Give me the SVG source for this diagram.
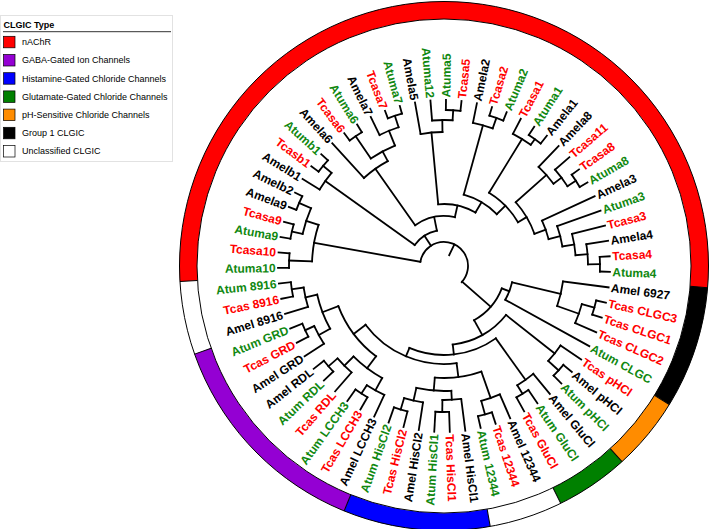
<svg xmlns="http://www.w3.org/2000/svg" width="709" height="529" viewBox="0 0 709 529">
<style>
.t line,.t circle{stroke:#000;stroke-width:1.8;fill:none;stroke-linecap:square}
.lb{font-family:"Liberation Sans",Arial,sans-serif;font-weight:bold;font-size:12px}
.r{fill:#ff0000}.g{fill:#108810}.k{fill:#000}.f{text-anchor:end}
.ring{fill:none;stroke-width:17.5}
.lg{font-family:"Liberation Sans",Arial,sans-serif;font-size:9px;fill:#000}
.sq{stroke:#000;stroke-width:0.7}
</style>
<rect width="709" height="529" fill="#fff"/>
<g id="legend">
<rect x="0.5" y="15.5" width="172" height="146" fill="#fff" stroke="#e2e2e2"/>
<text x="3.5" y="27.5" class="lg" font-weight="bold">CLGIC Type</text>
<line x1="3" y1="31.7" x2="171" y2="31.7" stroke="#333" stroke-width="1"/>
<rect class="sq" x="3.5" y="36.3" width="11.5" height="11.5" fill="#ff0000"/><text class="lg" x="22" y="45.2">nAChR</text>
<rect class="sq" x="3.5" y="54.5" width="11.5" height="11.5" fill="#9400d3"/><text class="lg" x="22" y="63.4">GABA-Gated Ion Channels</text>
<rect class="sq" x="3.5" y="72.7" width="11.5" height="11.5" fill="#0000ff"/><text class="lg" x="22" y="81.6">Histamine-Gated Chloride Channels</text>
<rect class="sq" x="3.5" y="90.9" width="11.5" height="11.5" fill="#008000"/><text class="lg" x="22" y="99.8">Glutamate-Gated Chloride Channels</text>
<rect class="sq" x="3.5" y="109.1" width="11.5" height="11.5" fill="#ff8c00"/><text class="lg" x="22" y="118">pH-Sensitive Chloride Channels</text>
<rect class="sq" x="3.5" y="127.3" width="11.5" height="11.5" fill="#000"/><text class="lg" x="22" y="136.2">Group 1 CLGIC</text>
<rect class="sq" x="3.5" y="145.5" width="11.5" height="11.5" fill="#fff"/><text class="lg" x="22" y="154.4">Unclassified CLGIC</text>
</g>
<g transform="translate(444 266)">
<g id="ring">
<circle class="ring" r="255.75" transform="rotate(176.654)" stroke="#ff0000" stroke-dasharray="839.43 3000"/>
<circle class="ring" r="255.75" transform="rotate(4.713)" stroke="#000" stroke-dasharray="119.91 3000"/>
<circle class="ring" r="255.75" transform="rotate(31.580)" stroke="#ff8c00" stroke-dasharray="71.95 3000"/>
<circle class="ring" r="255.75" transform="rotate(47.699)" stroke="#008000" stroke-dasharray="71.95 3000"/>
<circle class="ring" r="255.75" transform="rotate(79.938)" stroke="#0000ff" stroke-dasharray="143.90 3000"/>
<circle class="ring" r="255.75" transform="rotate(112.177)" stroke="#9400d3" stroke-dasharray="215.86 3000"/>
<circle r="247" fill="none" stroke="#000" stroke-width="1"/>
<circle r="264.5" fill="none" stroke="#000" stroke-width="1"/>
<g stroke="#000" stroke-width="1">
<line x1="247" x2="264.5" transform="rotate(4.713)"/><line x1="247" x2="264.5" transform="rotate(31.580)"/><line x1="247" x2="264.5" transform="rotate(47.699)"/><line x1="247" x2="264.5" transform="rotate(63.818)"/><line x1="247" x2="264.5" transform="rotate(79.938)"/><line x1="247" x2="264.5" transform="rotate(112.177)"/><line x1="247" x2="264.5" transform="rotate(160.535)"/><line x1="247" x2="264.5" transform="rotate(176.654)"/>
</g>
</g>
<g id="connectors" class="t">
<!-- G1 -->
<circle r="156" transform="rotate(12.773)" stroke-dasharray="14.63 3000"/><line transform="rotate(12.773)" x1="156" x2="166"/><line transform="rotate(18.146)" x1="156" x2="166"/>
<circle r="143" transform="rotate(15.460)" stroke-dasharray="20.11 3000"/><line transform="rotate(15.460)" x1="143" x2="156"/><line transform="rotate(23.519)" x1="143" x2="166"/>
<circle r="120" transform="rotate(7.400)" stroke-dasharray="25.32 3000"/><line transform="rotate(7.400)" x1="120" x2="166"/><line transform="rotate(19.490)" x1="120" x2="143"/>
<circle r="70" transform="rotate(13.445)" stroke-dasharray="18.87 3000"/><line transform="rotate(13.445)" x1="70" x2="120"/><line transform="rotate(28.893)" x1="70" x2="166"/>
<!-- pH -->
<circle r="155" transform="rotate(39.639)" stroke-dasharray="14.54 3000"/><line transform="rotate(39.639)" x1="155" x2="166"/><line transform="rotate(45.012)" x1="155" x2="166"/>
<circle r="141" transform="rotate(34.266)" stroke-dasharray="19.83 3000"/><line transform="rotate(34.266)" x1="141" x2="166"/><line transform="rotate(42.326)" x1="141" x2="155"/>
<!-- Glu -->
<circle r="150" transform="rotate(55.758)" stroke-dasharray="14.07 3000"/><line transform="rotate(55.758)" x1="150" x2="166"/><line transform="rotate(61.131)" x1="150" x2="166"/>
<circle r="140" transform="rotate(50.385)" stroke-dasharray="19.69 3000"/><line transform="rotate(50.385)" x1="140" x2="166"/><line transform="rotate(58.445)" x1="140" x2="150"/>
<!-- 12344 -->
<circle r="154" transform="rotate(71.878)" stroke-dasharray="14.44 3000"/><line transform="rotate(71.878)" x1="154" x2="166"/><line transform="rotate(77.251)" x1="154" x2="166"/>
<circle r="140" transform="rotate(66.504)" stroke-dasharray="19.69 3000"/><line transform="rotate(66.504)" x1="140" x2="166"/><line transform="rotate(74.565)" x1="140" x2="154"/>
<!-- HisCl -->
<circle r="146" transform="rotate(87.997)" stroke-dasharray="13.69 3000"/><line transform="rotate(87.997)" x1="146" x2="166"/><line transform="rotate(93.370)" x1="146" x2="166"/>
<circle r="134" transform="rotate(82.624)" stroke-dasharray="18.85 3000"/><line transform="rotate(82.624)" x1="134" x2="166"/><line transform="rotate(90.684)" x1="134" x2="146"/>
<circle r="150" transform="rotate(104.116)" stroke-dasharray="14.07 3000"/><line transform="rotate(104.116)" x1="150" x2="166"/><line transform="rotate(109.490)" x1="150" x2="166"/>
<circle r="138" transform="rotate(98.743)" stroke-dasharray="19.41 3000"/><line transform="rotate(98.743)" x1="138" x2="166"/><line transform="rotate(106.803)" x1="138" x2="150"/>
<circle r="125" transform="rotate(86.654)" stroke-dasharray="35.17 3000"/><line transform="rotate(86.654)" x1="125" x2="134"/><line transform="rotate(102.773)" x1="125" x2="138"/>
<circle r="112" transform="rotate(70.534)" stroke-dasharray="47.27 3000"/><line transform="rotate(70.534)" x1="112" x2="140"/><line transform="rotate(94.714)" x1="112" x2="125"/>
<!-- GABA -->
<circle r="152" transform="rotate(120.236)" stroke-dasharray="14.25 3000"/><line transform="rotate(120.236)" x1="152" x2="166"/><line transform="rotate(125.609)" x1="152" x2="166"/>
<circle r="142" transform="rotate(114.863)" stroke-dasharray="19.98 3000"/><line transform="rotate(114.863)" x1="142" x2="166"/><line transform="rotate(122.923)" x1="142" x2="152"/>
<circle r="153" transform="rotate(136.355)" stroke-dasharray="14.35 3000"/><line transform="rotate(136.355)" x1="153" x2="166"/><line transform="rotate(141.728)" x1="153" x2="166"/>
<circle r="141" transform="rotate(130.982)" stroke-dasharray="19.83 3000"/><line transform="rotate(130.982)" x1="141" x2="166"/><line transform="rotate(139.042)" x1="141" x2="153"/>
<circle r="128" transform="rotate(118.893)" stroke-dasharray="36.01 3000"/><line transform="rotate(118.893)" x1="128" x2="142"/><line transform="rotate(135.012)" x1="128" x2="141"/>
<circle r="153" transform="rotate(152.475)" stroke-dasharray="14.35 3000"/><line transform="rotate(152.475)" x1="153" x2="166"/><line transform="rotate(157.848)" x1="153" x2="166"/>
<circle r="143" transform="rotate(147.101)" stroke-dasharray="20.12 3000"/><line transform="rotate(147.101)" x1="143" x2="166"/><line transform="rotate(155.162)" x1="143" x2="153"/>
<circle r="154" transform="rotate(168.594)" stroke-dasharray="14.44 3000"/><line transform="rotate(168.594)" x1="154" x2="166"/><line transform="rotate(173.967)" x1="154" x2="166"/>
<circle r="142" transform="rotate(163.221)" stroke-dasharray="19.98 3000"/><line transform="rotate(163.221)" x1="142" x2="166"/><line transform="rotate(171.281)" x1="142" x2="154"/>
<circle r="130" transform="rotate(151.131)" stroke-dasharray="36.57 3000"/><line transform="rotate(151.131)" x1="130" x2="143"/><line transform="rotate(167.251)" x1="130" x2="142"/>
<circle r="113" transform="rotate(126.953)" stroke-dasharray="63.58 3000"/><line transform="rotate(126.953)" x1="113" x2="128"/><line transform="rotate(159.191)" x1="113" x2="130"/>
<!-- backbone non-nAChR -->
<circle r="98" transform="rotate(82.624)" stroke-dasharray="103.39 3000"/><line transform="rotate(82.624)" x1="98" x2="112"/><line transform="rotate(143.072)" x1="98" x2="113"/>
<circle r="89" transform="rotate(54.415)" stroke-dasharray="90.77 3000"/><line transform="rotate(54.415)" x1="89" x2="140"/><line transform="rotate(112.848)" x1="89" x2="98"/>
<circle r="79" transform="rotate(38.296)" stroke-dasharray="62.51 3000"/><line transform="rotate(38.296)" x1="79" x2="141"/><line transform="rotate(83.632)" x1="79" x2="89"/>
<circle r="62" transform="rotate(21.169)" stroke-dasharray="43.06 3000"/><line transform="rotate(21.169)" x1="62" x2="70"/><line transform="rotate(60.964)" x1="62" x2="79"/>
<!-- X -->
<circle r="155" transform="rotate(179.340)" stroke-dasharray="14.54 3000"/><line transform="rotate(179.340)" x1="155" x2="166"/><line transform="rotate(184.713)" x1="155" x2="166"/>
<circle r="156" transform="rotate(190.087)" stroke-dasharray="14.63 3000"/><line transform="rotate(190.087)" x1="156" x2="166"/><line transform="rotate(195.460)" x1="156" x2="166"/>
<circle r="158" transform="rotate(200.833)" stroke-dasharray="14.82 3000"/><line transform="rotate(200.833)" x1="158" x2="166"/><line transform="rotate(206.206)" x1="158" x2="166"/>
<circle r="145" transform="rotate(192.774)" stroke-dasharray="27.20 3000"/><line transform="rotate(192.774)" x1="145" x2="156"/><line transform="rotate(203.520)" x1="145" x2="158"/>
<circle r="132" transform="rotate(182.027)" stroke-dasharray="37.14 3000"/><line transform="rotate(182.027)" x1="132" x2="155"/><line transform="rotate(198.147)" x1="132" x2="145"/>
<!-- B -->
<circle r="157" transform="rotate(216.952)" stroke-dasharray="14.72 3000"/><line transform="rotate(216.952)" x1="157" x2="166"/><line transform="rotate(222.325)" x1="157" x2="166"/>
<circle r="146" transform="rotate(211.579)" stroke-dasharray="20.54 3000"/><line transform="rotate(211.579)" x1="146" x2="166"/><line transform="rotate(219.639)" x1="146" x2="157"/>
<!-- a6/a7 -->
<circle r="158" transform="rotate(249.191)" stroke-dasharray="14.82 3000"/><line transform="rotate(249.191)" x1="158" x2="166"/><line transform="rotate(254.564)" x1="158" x2="166"/>
<circle r="146" transform="rotate(243.818)" stroke-dasharray="20.54 3000"/><line transform="rotate(243.818)" x1="146" x2="166"/><line transform="rotate(251.878)" x1="146" x2="158"/>
<circle r="157" transform="rotate(233.072)" stroke-dasharray="14.72 3000"/><line transform="rotate(233.072)" x1="157" x2="166"/><line transform="rotate(238.445)" x1="157" x2="166"/>
<circle r="130" transform="rotate(235.759)" stroke-dasharray="27.43 3000"/><line transform="rotate(235.759)" x1="130" x2="157"/><line transform="rotate(247.848)" x1="130" x2="146"/>
<circle r="119" transform="rotate(227.699)" stroke-dasharray="29.30 3000"/><line transform="rotate(227.699)" x1="119" x2="166"/><line transform="rotate(241.804)" x1="119" x2="130"/>
<!-- a5 -->
<circle r="156" transform="rotate(270.684)" stroke-dasharray="14.63 3000"/><line transform="rotate(270.684)" x1="156" x2="166"/><line transform="rotate(276.057)" x1="156" x2="166"/>
<circle r="146" transform="rotate(265.310)" stroke-dasharray="20.54 3000"/><line transform="rotate(265.310)" x1="146" x2="166"/><line transform="rotate(273.371)" x1="146" x2="156"/>
<circle r="134" transform="rotate(259.937)" stroke-dasharray="21.99 3000"/><line transform="rotate(259.937)" x1="134" x2="166"/><line transform="rotate(269.340)" x1="134" x2="146"/>
<!-- a2 -->
<circle r="157" transform="rotate(286.803)" stroke-dasharray="14.72 3000"/><line transform="rotate(286.803)" x1="157" x2="166"/><line transform="rotate(292.176)" x1="157" x2="166"/>
<circle r="146" transform="rotate(281.430)" stroke-dasharray="20.54 3000"/><line transform="rotate(281.430)" x1="146" x2="166"/><line transform="rotate(289.490)" x1="146" x2="157"/>
<!-- a1 -->
<circle r="156" transform="rotate(302.922)" stroke-dasharray="14.63 3000"/><line transform="rotate(302.922)" x1="156" x2="166"/><line transform="rotate(308.296)" x1="156" x2="166"/>
<circle r="149" transform="rotate(297.549)" stroke-dasharray="20.96 3000"/><line transform="rotate(297.549)" x1="149" x2="166"/><line transform="rotate(305.609)" x1="149" x2="156"/>
<!-- a8 -->
<circle r="157" transform="rotate(324.415)" stroke-dasharray="14.72 3000"/><line transform="rotate(324.415)" x1="157" x2="166"/><line transform="rotate(329.788)" x1="157" x2="166"/>
<circle r="147" transform="rotate(319.042)" stroke-dasharray="20.68 3000"/><line transform="rotate(319.042)" x1="147" x2="166"/><line transform="rotate(327.102)" x1="147" x2="157"/>
<circle r="137" transform="rotate(313.669)" stroke-dasharray="22.48 3000"/><line transform="rotate(313.669)" x1="137" x2="166"/><line transform="rotate(323.072)" x1="137" x2="147"/>
<!-- a3/a4 -->
<circle r="156" transform="rotate(356.654)" stroke-dasharray="14.63 3000"/><line transform="rotate(356.654)" x1="156" x2="166"/><line transform="rotate(362.027)" x1="156" x2="166"/>
<circle r="144" transform="rotate(351.281)" stroke-dasharray="20.26 3000"/><line transform="rotate(351.281)" x1="144" x2="166"/><line transform="rotate(359.341)" x1="144" x2="156"/>
<circle r="132" transform="rotate(345.907)" stroke-dasharray="21.67 3000"/><line transform="rotate(345.907)" x1="132" x2="166"/><line transform="rotate(355.311)" x1="132" x2="144"/>
<circle r="120" transform="rotate(340.534)" stroke-dasharray="21.10 3000"/><line transform="rotate(340.534)" x1="120" x2="166"/><line transform="rotate(350.609)" x1="120" x2="132"/>
<circle r="108" transform="rotate(335.161)" stroke-dasharray="19.62 3000"/><line transform="rotate(335.161)" x1="108" x2="166"/><line transform="rotate(345.571)" x1="108" x2="120"/>
<!-- nAChR backbone -->
<circle r="96" transform="rotate(318.370)" stroke-dasharray="36.85 3000"/><line transform="rotate(318.370)" x1="96" x2="137"/><line transform="rotate(340.366)" x1="96" x2="108"/>
<circle r="86" transform="rotate(301.579)" stroke-dasharray="41.71 3000"/><line transform="rotate(301.579)" x1="86" x2="149"/><line transform="rotate(329.368)" x1="86" x2="96"/>
<circle r="74" transform="rotate(285.460)" stroke-dasharray="38.76 3000"/><line transform="rotate(285.460)" x1="74" x2="146"/><line transform="rotate(315.474)" x1="74" x2="86"/>
<circle r="62" transform="rotate(264.639)" stroke-dasharray="38.77 3000"/><line transform="rotate(264.639)" x1="62" x2="134"/><line transform="rotate(300.467)" x1="62" x2="74"/>
<circle r="50" transform="rotate(234.751)" stroke-dasharray="41.72 3000"/><line transform="rotate(234.751)" x1="50" x2="119"/><line transform="rotate(282.553)" x1="50" x2="62"/>
<circle r="36" transform="rotate(215.609)" stroke-dasharray="27.04 3000"/><line transform="rotate(215.609)" x1="36" x2="146"/><line transform="rotate(258.652)" x1="36" x2="50"/>
<!-- root -->
<circle r="24" transform="rotate(190.087)" stroke-dasharray="88.38 3000"/>
<line transform="rotate(190.087)" x1="24" x2="132"/><line transform="rotate(237.131)" x1="24" x2="36"/><line transform="rotate(41.067)" x1="24" x2="62"/>
<line transform="rotate(295.577)" x1="12" x2="24"/>
</g>
<g id="leaves" class="lb">
<g id="n1"><text class="k" dy="4.3" transform="rotate(7.400) translate(168.5 0)">Amel 6927</text></g>
<g id="n2"><text class="r" dy="4.3" transform="rotate(12.773) translate(168.5 0)">Tcas CLGC3</text></g>
<g id="n3"><text class="r" dy="4.3" transform="rotate(18.146) translate(168.5 0)">Tcas CLGC1</text></g>
<g id="n4"><text class="r" dy="4.3" transform="rotate(23.519) translate(168.5 0)">Tcas CLGC2</text></g>
<g id="n5"><text class="g" dy="4.3" transform="rotate(28.893) translate(168.5 0)">Atum CLGC</text></g>
<g id="n6"><text class="r" dy="4.3" transform="rotate(34.266) translate(168.5 0)">Tcas pHCl</text></g>
<g id="n7"><text class="k" dy="4.3" transform="rotate(39.639) translate(168.5 0)">Amel pHCl</text></g>
<g id="n8"><text class="g" dy="4.3" transform="rotate(45.012) translate(168.5 0)">Atum pHCl</text></g>
<g id="n9"><text class="k" dy="4.3" transform="rotate(50.385) translate(168.5 0)">Amel GluCl</text></g>
<g id="n10"><text class="g" dy="4.3" transform="rotate(55.758) translate(168.5 0)">Atum GluCl</text></g>
<g id="n11"><text class="r" dy="4.3" transform="rotate(61.131) translate(168.5 0)">Tcas GluCl</text></g>
<g id="n12"><text class="k" dy="4.3" transform="rotate(66.504) translate(168.5 0)">Amel 12344</text></g>
<g id="n13"><text class="r" dy="4.3" transform="rotate(71.878) translate(168.5 0)">Tcas 12344</text></g>
<g id="n14"><text class="g" dy="4.3" transform="rotate(77.251) translate(168.5 0)">Atum 12344</text></g>
<g id="n15"><text class="k" dy="4.3" transform="rotate(82.624) translate(168.5 0)">Amel HisCl1</text></g>
<g id="n16"><text class="r" dy="4.3" transform="rotate(87.997) translate(168.5 0)">Tcas HisCl1</text></g>
<g id="n17"><text class="g f" dy="4.3" transform="rotate(93.370) translate(168.5 0) rotate(180)">Atum HisCl1</text></g>
<g id="n18"><text class="k f" dy="4.3" transform="rotate(98.743) translate(168.5 0) rotate(180)">Amel HisCl2</text></g>
<g id="n19"><text class="r f" dy="4.3" transform="rotate(104.116) translate(168.5 0) rotate(180)">Tcas HisCl2</text></g>
<g id="n20"><text class="g f" dy="4.3" transform="rotate(109.490) translate(168.5 0) rotate(180)">Atum HisCl2</text></g>
<g id="n21"><text class="k f" dy="4.3" transform="rotate(114.863) translate(168.5 0) rotate(180)">Amel LCCH3</text></g>
<g id="n22"><text class="r f" dy="4.3" transform="rotate(120.236) translate(168.5 0) rotate(180)">Tcas LCCH3</text></g>
<g id="n23"><text class="g f" dy="4.3" transform="rotate(125.609) translate(168.5 0) rotate(180)">Atum LCCH3</text></g>
<g id="n24"><text class="r f" dy="4.3" transform="rotate(130.982) translate(168.5 0) rotate(180)">Tcas RDL</text></g>
<g id="n25"><text class="g f" dy="4.3" transform="rotate(136.355) translate(168.5 0) rotate(180)">Atum RDL</text></g>
<g id="n26"><text class="k f" dy="4.3" transform="rotate(141.728) translate(168.5 0) rotate(180)">Amel RDL</text></g>
<g id="n27"><text class="k f" dy="4.3" transform="rotate(147.101) translate(168.5 0) rotate(180)">Amel GRD</text></g>
<g id="n28"><text class="r f" dy="4.3" transform="rotate(152.475) translate(168.5 0) rotate(180)">Tcas GRD</text></g>
<g id="n29"><text class="g f" dy="4.3" transform="rotate(157.848) translate(168.5 0) rotate(180)">Atum GRD</text></g>
<g id="n30"><text class="k f" dy="4.3" transform="rotate(163.221) translate(168.5 0) rotate(180)">Amel 8916</text></g>
<g id="n31"><text class="r f" dy="4.3" transform="rotate(168.594) translate(168.5 0) rotate(180)">Tcas 8916</text></g>
<g id="n32"><text class="g f" dy="4.3" transform="rotate(173.967) translate(168.5 0) rotate(180)">Atum 8916</text></g>
<g id="n33"><text class="g f" dy="4.3" transform="rotate(179.340) translate(168.5 0) rotate(180)">Atuma10</text></g>
<g id="n34"><text class="r f" dy="4.3" transform="rotate(184.713) translate(168.5 0) rotate(180)">Tcasa10</text></g>
<g id="n35"><text class="g f" dy="4.3" transform="rotate(190.087) translate(168.5 0) rotate(180)">Atuma9</text></g>
<g id="n36"><text class="r f" dy="4.3" transform="rotate(195.460) translate(168.5 0) rotate(180)">Tcasa9</text></g>
<g id="n37"><text class="k f" dy="4.3" transform="rotate(200.833) translate(168.5 0) rotate(180)">Amela9</text></g>
<g id="n38"><text class="k f" dy="4.3" transform="rotate(206.206) translate(168.5 0) rotate(180)">Amelb2</text></g>
<g id="n39"><text class="k f" dy="4.3" transform="rotate(211.579) translate(168.5 0) rotate(180)">Amelb1</text></g>
<g id="n40"><text class="r f" dy="4.3" transform="rotate(216.952) translate(168.5 0) rotate(180)">Tcasb1</text></g>
<g id="n41"><text class="g f" dy="4.3" transform="rotate(222.325) translate(168.5 0) rotate(180)">Atumb1</text></g>
<g id="n42"><text class="k f" dy="4.3" transform="rotate(227.699) translate(168.5 0) rotate(180)">Amela6</text></g>
<g id="n43"><text class="r f" dy="4.3" transform="rotate(233.072) translate(168.5 0) rotate(180)">Tcasa6</text></g>
<g id="n44"><text class="g f" dy="4.3" transform="rotate(238.445) translate(168.5 0) rotate(180)">Atuma6</text></g>
<g id="n45"><text class="k f" dy="4.3" transform="rotate(243.818) translate(168.5 0) rotate(180)">Amela7</text></g>
<g id="n46"><text class="r f" dy="4.3" transform="rotate(249.191) translate(168.5 0) rotate(180)">Tcasa7</text></g>
<g id="n47"><text class="g f" dy="4.3" transform="rotate(254.564) translate(168.5 0) rotate(180)">Atuma7</text></g>
<g id="n48"><text class="k f" dy="4.3" transform="rotate(259.937) translate(168.5 0) rotate(180)">Amela5</text></g>
<g id="n49"><text class="g f" dy="4.3" transform="rotate(265.310) translate(168.5 0) rotate(180)">Atuma12</text></g>
<g id="n50"><text class="g" dy="4.3" transform="rotate(270.684) translate(168.5 0)">Atuma5</text></g>
<g id="n51"><text class="r" dy="4.3" transform="rotate(276.057) translate(168.5 0)">Tcasa5</text></g>
<g id="n52"><text class="k" dy="4.3" transform="rotate(281.430) translate(168.5 0)">Amela2</text></g>
<g id="n53"><text class="r" dy="4.3" transform="rotate(286.803) translate(168.5 0)">Tcasa2</text></g>
<g id="n54"><text class="g" dy="4.3" transform="rotate(292.176) translate(168.5 0)">Atuma2</text></g>
<g id="n55"><text class="r" dy="4.3" transform="rotate(297.549) translate(168.5 0)">Tcasa1</text></g>
<g id="n56"><text class="g" dy="4.3" transform="rotate(302.922) translate(168.5 0)">Atuma1</text></g>
<g id="n57"><text class="k" dy="4.3" transform="rotate(308.296) translate(168.5 0)">Amela1</text></g>
<g id="n58"><text class="k" dy="4.3" transform="rotate(313.669) translate(168.5 0)">Amela8</text></g>
<g id="n59"><text class="r" dy="4.3" transform="rotate(319.042) translate(168.5 0)">Tcasa11</text></g>
<g id="n60"><text class="r" dy="4.3" transform="rotate(324.415) translate(168.5 0)">Tcasa8</text></g>
<g id="n61"><text class="g" dy="4.3" transform="rotate(329.788) translate(168.5 0)">Atuma8</text></g>
<g id="n62"><text class="k" dy="4.3" transform="rotate(335.161) translate(168.5 0)">Amela3</text></g>
<g id="n63"><text class="g" dy="4.3" transform="rotate(340.534) translate(168.5 0)">Atuma3</text></g>
<g id="n64"><text class="r" dy="4.3" transform="rotate(345.907) translate(168.5 0)">Tcasa3</text></g>
<g id="n65"><text class="k" dy="4.3" transform="rotate(351.281) translate(168.5 0)">Amela4</text></g>
<g id="n66"><text class="r" dy="4.3" transform="rotate(356.654) translate(168.5 0)">Tcasa4</text></g>
<g id="n67"><text class="g" dy="4.3" transform="rotate(2.027) translate(168.5 0)">Atuma4</text></g>
</g>
</g>
</svg>
